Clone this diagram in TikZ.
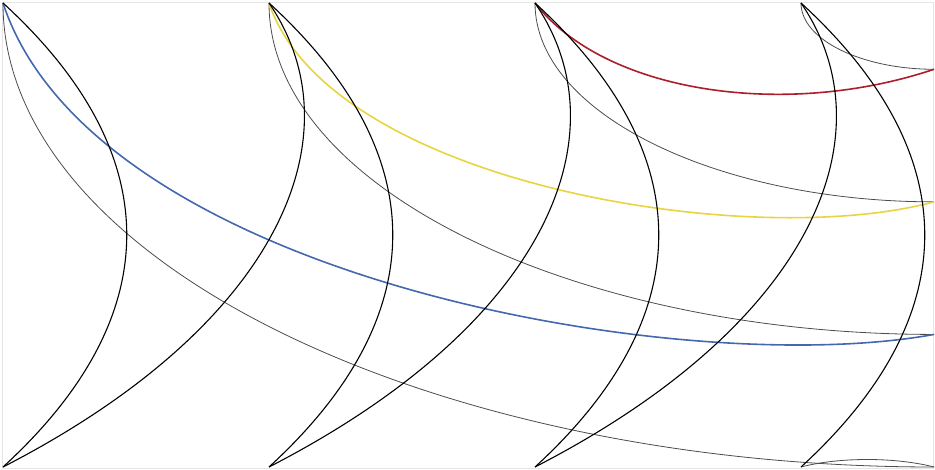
\documentclass[tikz,border=0pt]{standalone}
\definecolor{kblau}{RGB}{68,104,174}
\definecolor{kgelb}{RGB}{232,212,64}
\definecolor{krot}{RGB}{172,30,42}
\begin{document}
\begin{tikzpicture}[x=1pt, y=-1pt,
    bogen/.style={black, line width=1.1pt},
    duenn/.style={black!70, line width=0.8pt},
    farbig/.style={line width=1.6pt}]
    \useasboundingbox (0,0) rectangle (935,470);

    % Rahmen
    \draw[black!10, line width=0.8pt] (2.5,2.5) rectangle (933,468);

    % Punkte
    \foreach \i in {1,...,4} {
        \coordinate (t\i) at ({3+266*(\i-1)},3);
        \coordinate (b\i) at ({3+266*(\i-1)},467);
        \coordinate (r\i) at (934,{3+464*(2*\i-1)/7});
    }

    % duenne Kurven
    \foreach \i/\j/\s in {1/4/1, 2/3/0.7143, 3/2/0.4286, 4/1/0.1429}
        \draw[duenn] (t\i) .. controls +(0,260*\s) and +(-500*\s,0) .. (r\j);
    \draw[duenn] (b4) .. controls +(38,-10) and +(-39,-10) .. (r4);

    % farbige Kurven
    \draw[farbig, kblau] (t1) .. controls +(90,275) and +(-251,46) .. (r3);
    \draw[farbig, kgelb] (t2) .. controls +(60,180) and +(-185,50) .. (r2);
    \draw[farbig, krot] (t3) .. controls +(70,90) and +(-149,50) .. (r1);

    % Boegen
    \foreach \i in {1,...,4}
        \draw[bogen] (t\i) .. controls +(165,151) and +(165,-151) .. (b\i);
    \foreach \i/\j in {1/2, 2/3, 3/4}
        \draw[bogen] (b\i) .. controls +(280,-144) and +(89,130) .. (t\j);

\end{tikzpicture}
\end{document}
